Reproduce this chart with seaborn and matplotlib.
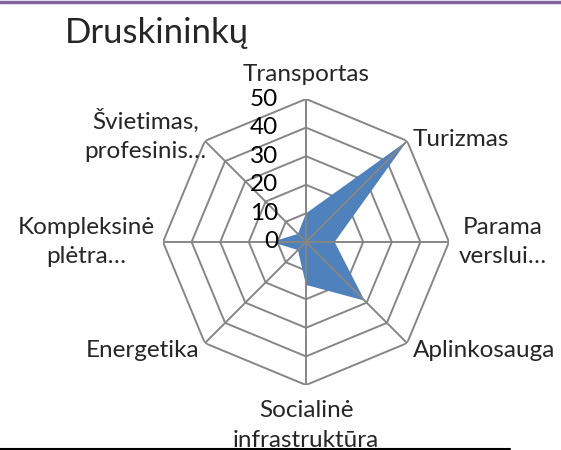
import matplotlib
matplotlib.use("Agg")
import matplotlib.pyplot as plt
import seaborn as sns
import numpy as np

# duomenys
categories = ["Transportas", "Turizmas", "Parama\nverslui…", "Aplinkosauga",
              "Socialinė\ninfrastruktūra", "Energetika", "Kompleksinė\nplėtra…",
              "Švietimas,\nprofesinis…"]
values = [10, 50, 10, 29, 15, 4, 12, 4]
ticks = [0, 10, 20, 30, 40, 50]

sns.set_style("white")
plt.rcParams["font.family"] = ["Lato", "DejaVu Sans"]

fig = plt.figure(figsize=(5.61, 4.50), dpi=100)
ax = fig.add_axes([163 / 561, 65 / 450, 286 / 561, 286 / 450], projection="polar")
ax.set_theta_zero_location("N")
ax.set_theta_direction(-1)
ax.set_ylim(0, 50)

n = len(categories)
angles = np.linspace(0, 2 * np.pi, n, endpoint=False)
closed = np.append(angles, angles[0])

# octagon grid
grid_col = "#868686"
for t in ticks[1:]:
    ax.plot(closed, [t] * (n + 1), color=grid_col, lw=1.4, zorder=1)
for a in angles:
    ax.plot([a, a], [0, 50], color=grid_col, lw=1.4, zorder=3)

vals = np.append(values, values[0])
ax.fill(closed, vals, color="#4F81BD", lw=0, zorder=2)

ax.grid(False)
ax.spines["polar"].set_visible(False)
ax.set_xticks([])
ax.set_yticks([])

fs = 17.5

# value labels
for t in ticks:
    ax.annotate(str(t), xy=(0, t), xytext=(-20, 0), textcoords="offset points",
                ha="right", va="center", fontsize=fs, color="#000000", zorder=5)

# category labels
label_pos = [
    (0, 0, 10, "center", "bottom"),
    (1, 4, 1, "left", "center"),
    (2, 39, 0, "center", "center"),
    (3, 4, -5, "left", "center"),
    (4, 0, -11, "center", "top"),
    (5, -4, -5, "right", "center"),
    (6, -55, 0, "center", "center"),
    (7, -43, 4, "center", "center"),
]
for i, dx, dy, ha, va in label_pos:
    ax.annotate(categories[i], xy=(angles[i], 50), xytext=(dx, dy), textcoords="offset points",
                ha=ha, va=va, fontsize=fs, linespacing=1.5, annotation_clip=False)

fig.text(65 / 561, 1 - 33 / 450, "Druskininkų", fontsize=25, ha="left", va="center")

# page decorations
fig.add_artist(plt.Line2D([0, 1], [1 - 1.5 / 450, 1 - 1.5 / 450], color="#8064A2", lw=2.5,
                          transform=fig.transFigure))
fig.add_artist(plt.Line2D([0, 510 / 561], [1 / 450, 1 / 450], color="black", lw=1.5,
                          transform=fig.transFigure))

fig.savefig("out.png", dpi=100)
